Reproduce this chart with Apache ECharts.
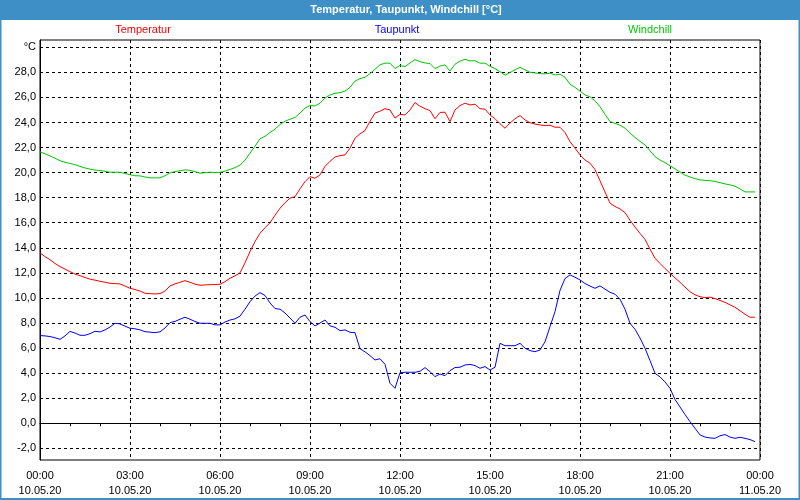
<!DOCTYPE html>
<html>
<head>
<meta charset="utf-8">
<script src="https://cdn.jsdelivr.net/npm/echarts@6/dist/echarts.min.js"></script>
<style>
  html, body { margin: 0; padding: 0; background: #fff; }
  #chart { width: 800px; height: 500px; }
</style>
</head>
<body>
<div id="chart"></div>
<script>
// Messwerte alle 10 Minuten ab 00:00 (10.05.20)
const stepMinutes = 10;

const temperatur = [
  13.6, 13.3, 13.05, 12.75, 12.5, 12.3, 12.1, 11.9, 11.78, 11.63,
  11.5, 11.42, 11.33, 11.25, 11.17, 11.14, 11.12, 10.95, 10.77, 10.67,
  10.55, 10.37, 10.34, 10.32, 10.35, 10.55, 10.96, 11.12, 11.25, 11.38,
  11.25, 11.1, 11.01, 11.04, 11.06, 11.07, 11.09, 11.3, 11.57, 11.77,
  12.0, 12.8, 13.7, 14.5, 15.16, 15.6, 16.0, 16.6, 17.16, 17.6,
  17.96, 18.08, 18.7, 19.28, 19.68, 19.55, 19.82, 20.5, 20.9, 21.25,
  21.35, 21.41, 21.95, 22.75, 23.1, 23.35, 24.1, 24.75, 24.9, 25.1,
  25.0, 24.35, 24.65, 24.6, 25.0, 25.59, 25.3, 25.1, 24.95, 24.3,
  24.8, 24.82, 24.07, 25.0, 25.35, 25.54, 25.4, 25.46, 25.1, 25.06,
  24.6, 24.3, 23.9, 23.54, 23.95, 24.3, 24.55, 24.2, 23.98, 23.87,
  23.8, 23.75, 23.78, 23.62, 23.62, 23.2, 22.47, 21.95, 21.41, 21.0,
  20.75, 20.25, 19.35, 18.45, 17.56, 17.3, 17.1, 16.81, 16.2, 15.65,
  15.15, 14.68, 13.9, 13.17, 12.75, 12.35, 11.97, 11.6, 11.25, 10.87,
  10.5, 10.25, 10.1, 10.02, 10.06, 9.95, 9.8, 9.65, 9.45, 9.25,
  8.98, 8.7, 8.46, 8.46
];

const taupunkt = [
  7.0, 6.97, 6.92, 6.82, 6.7, 6.97, 7.33, 7.2, 7.02, 7.02,
  7.15, 7.34, 7.29, 7.45, 7.68, 7.98, 7.93, 7.75, 7.58, 7.54,
  7.45, 7.31, 7.27, 7.23, 7.3, 7.6, 8.03, 8.13, 8.3, 8.46,
  8.3, 8.12, 7.98, 7.98, 7.98, 7.85, 7.85, 8.08, 8.24, 8.33,
  8.55, 9.1, 9.7, 10.15, 10.42, 10.2, 9.6, 9.15, 9.1, 8.8,
  8.4, 7.98, 8.46, 8.64, 8.11, 7.77, 8.0, 8.24, 7.77, 7.66,
  7.39, 7.45, 7.26, 7.23, 5.95, 5.7, 5.4, 5.05, 5.15, 4.7,
  3.19, 2.79, 4.04, 4.07, 4.07, 4.07, 4.15, 4.44, 4.12, 3.72,
  3.93, 3.8, 4.2, 4.45, 4.47, 4.65, 4.7, 4.6, 4.39, 4.52,
  4.25, 4.47, 6.38, 6.19, 6.19, 6.19, 6.38, 5.99, 5.8, 5.71,
  5.85, 6.5, 7.71, 8.91, 10.6, 11.55, 11.84, 11.65, 11.44, 11.15,
  10.95, 10.77, 10.96, 10.7, 10.45, 10.3, 9.9, 9.1, 7.98, 7.5,
  6.8, 5.99, 5.0, 3.99, 3.7, 3.3, 2.79, 1.9, 1.3, 0.7,
  0.13, -0.4, -0.93, -1.1, -1.17, -1.2, -1.0, -0.9, -1.1, -1.2,
  -1.12, -1.2, -1.3, -1.47
];

const windchill = [
  21.65, 21.5, 21.33, 21.15, 20.95, 20.82, 20.73, 20.63, 20.5, 20.37,
  20.28, 20.2, 20.17, 20.1, 20.03, 20.03, 20.03, 19.93, 19.83, 19.75,
  19.74, 19.65, 19.58, 19.58, 19.58, 19.75, 19.98, 20.08, 20.15, 20.22,
  20.18, 20.08, 19.95, 20.0, 20.03, 20.01, 20.02, 20.12, 20.25, 20.4,
  20.6, 21.0, 21.55, 22.1, 22.7, 22.9, 23.2, 23.46, 23.85, 24.1,
  24.26, 24.4, 24.75, 25.14, 25.35, 25.32, 25.54, 25.95, 26.2, 26.33,
  26.38, 26.5, 26.8, 27.3, 27.5, 27.6, 27.9, 28.25, 28.6, 28.73,
  28.73, 28.3, 28.55, 28.46, 28.75, 29.02, 28.85, 28.75, 28.7, 28.3,
  28.5, 28.59, 28.1, 28.65, 28.9, 29.04, 28.91, 28.93, 28.73, 28.73,
  28.48, 28.3, 28.05, 27.78, 27.98, 28.2, 28.4, 28.2, 28.0, 27.95,
  27.9, 27.88, 27.93, 27.79, 27.85, 27.61, 27.05, 26.8, 26.5, 26.2,
  26.05, 25.74, 25.25, 24.65, 24.07, 23.93, 23.78, 23.55, 23.15, 22.8,
  22.5, 22.21, 21.75, 21.28, 21.0, 20.8, 20.54, 20.3, 20.05, 19.8,
  19.65, 19.52, 19.42, 19.38, 19.35, 19.3, 19.2, 19.1, 19.02, 18.92,
  18.7, 18.46, 18.46, 18.46
];

const yTicks = [-2, 0, 2, 4, 6, 8, 10, 12, 14, 16, 18, 20, 22, 24, 26, 28, 30];
const dayLabels = ['10.05.20', '11.05.20'];

function pairs(values) {
  return values.map(function (v, i) { return [i * stepMinutes, v]; });
}

var chartDom = document.getElementById('chart');
var myChart = echarts.init(chartDom);

var font = 'Liberation Sans, Arial, sans-serif';

var option = {
  backgroundColor: '#ffffff',
  animation: false,
  textStyle: { fontFamily: font },
  graphic: [
    { type: 'rect', shape: { x: 0, y: 0, width: 800, height: 20 }, style: { fill: '#3d8fc6' }, z: 10 },
    { type: 'rect', shape: { x: 0.5, y: 0, width: 799, height: 499 }, style: { fill: null, stroke: '#3d8fc6', lineWidth: 2 }, z: 10 },
    { type: 'text', x: 406, y: 10, style: { text: 'Temperatur, Taupunkt, Windchill [°C]', fill: '#ffffff', font: 'bold 11px ' + font, align: 'center', verticalAlign: 'middle' }, z: 11 },
    { type: 'text', x: 143, y: 30, style: { text: 'Temperatur', fill: '#ff0000', font: '11px ' + font, align: 'center', verticalAlign: 'middle' } },
    { type: 'text', x: 397, y: 30, style: { text: 'Taupunkt', fill: '#0000ff', font: '11px ' + font, align: 'center', verticalAlign: 'middle' } },
    { type: 'text', x: 650, y: 30, style: { text: 'Windchill', fill: '#00c800', font: '11px ' + font, align: 'center', verticalAlign: 'middle' } }
  ],
  grid: {
    left: 40, right: 40, top: 40, bottom: 40,
    show: true, borderColor: '#000', borderWidth: 1, backgroundColor: '#ffffff'
  },
  xAxis: {
    type: 'value',
    min: 0, max: 1440, interval: 180,
    axisLine: { show: true, lineStyle: { color: '#000', width: 1 } },
    axisTick: { show: true, length: 3, lineStyle: { color: '#000' } },
    minorTick: { show: true, splitNumber: 3, length: 3, lineStyle: { color: '#000' } },
    splitLine: { show: true, lineStyle: { color: '#000', type: [3, 3], width: 1 } },
    axisLabel: {
      color: '#000', fontSize: 11, lineHeight: 15, margin: 8,
      formatter: function (v) {
        var h = Math.round(v / 60) % 24;
        var d = v >= 1440 ? dayLabels[1] : dayLabels[0];
        return (h < 10 ? '0' : '') + h + ':00\n' + d;
      }
    }
  },
  yAxis: {
    type: 'value',
    min: -2.93, max: 30.58,
    axisLine: { show: true, lineStyle: { color: '#000', width: 1 } },
    axisTick: { show: false, customValues: yTicks },
    splitLine: { show: true, lineStyle: { color: '#000', type: [3, 3], width: 1 } },
    axisLabel: {
      customValues: yTicks,
      color: '#000', fontSize: 11, margin: 4,
      formatter: function (v) {
        if (v === 30) return '°C';
        return v.toFixed(1).replace('.', ',');
      }
    }
  },
  series: [
    { name: 'Windchill', type: 'line', data: pairs(windchill), showSymbol: false, lineStyle: { color: '#00c800', width: 1 } },
    { name: 'Temperatur', type: 'line', data: pairs(temperatur), showSymbol: false, lineStyle: { color: '#ff0000', width: 1 } },
    { name: 'Taupunkt', type: 'line', data: pairs(taupunkt), showSymbol: false, lineStyle: { color: '#0000ff', width: 1 } }
  ]
};

option && myChart.setOption(option);
</script>
</body>
</html>
